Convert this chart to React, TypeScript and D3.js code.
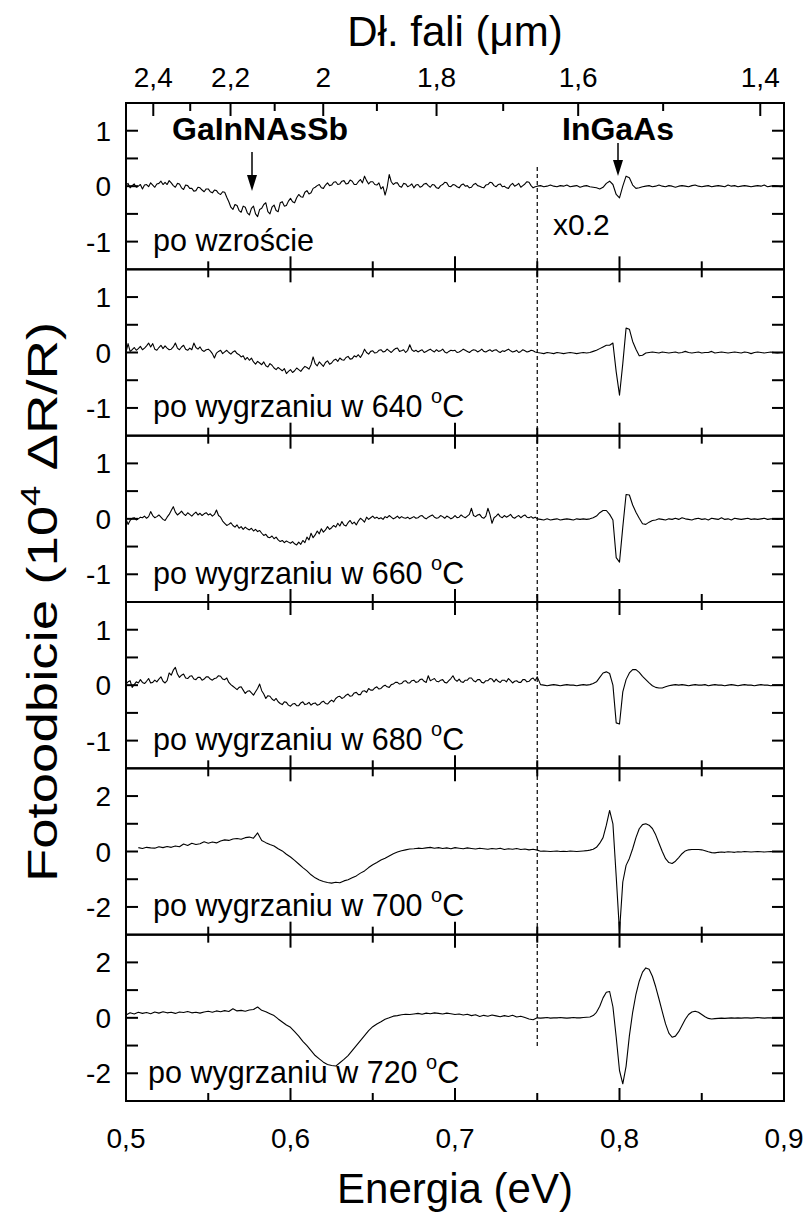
import React from "react";
import * as d3 from "d3";

// ---- data -------------------------------------------------------------
// Photoreflectance spectra (10^4 ΔR/R) vs photon energy (eV).
// Left part: 0.500–0.750 eV, evenly sampled (step follows the array length).
// Right part: 0.750–0.900 eV, every 2 meV.
const LEFT_START = 0.5;
const LEFT_END = 0.75;
const RIGHT_START = 0.75;
const RIGHT_STEP = 0.002;

const annealTemps = [null, 640, 660, 680, 700, 720];

const asGrownLeft = [
  0.02, 0.05, -0.03, 0.01, 0.04, -0.02, 0.0, 0.03, -0.05, 0.02, 0.03, -0.01, 0.06, 0.02, -0.02, 0.04, 0.05, 0.09, 0.03, 0.07,
  0.03, 0.1, 0.06, 0.01, -0.02, 0.05, 0.04, -0.03, -0.06, 0.02, 0.01, -0.04, -0.04, -0.09, -0.08, -0.02, -0.03, -0.07, -0.1, -0.05,
  -0.05, -0.1, -0.12, -0.07, -0.08, -0.13, -0.15, -0.1, -0.11, -0.2, -0.28, -0.38, -0.42, -0.33, -0.35, -0.44, -0.47, -0.36, -0.38, -0.48,
  -0.52, -0.4, -0.36, -0.5, -0.55, -0.42, -0.4, -0.33, -0.3, -0.46, -0.5, -0.38, -0.34, -0.44, -0.46, -0.3, -0.28, -0.36, -0.35, -0.27,
  -0.22, -0.28, -0.3, -0.21, -0.15, -0.19, -0.2, -0.11, -0.08, -0.14, -0.12, -0.04, -0.02, 0.01, 0.03, -0.03, -0.04, 0.02, 0.06, 0.01,
  0.02, 0.07, 0.08, 0.03, 0.04, 0.09, 0.1, 0.04, 0.05, 0.11, 0.09, 0.03, 0.03, 0.08, 0.12, 0.06, 0.18, 0.1, 0.04, 0.08,
  0.08, 0.03, 0.02, 0.06, -0.05, -0.01, -0.16, -0.02, 0.21, 0.08, 0.03, 0.06, 0.06, 0.0, -0.02, 0.05, 0.04, -0.01, 0.01, 0.04,
  -0.03, 0.02, 0.03, -0.02, 0.0, 0.04, 0.05, 0.01, -0.02, 0.03, 0.02, -0.03, -0.04, 0.01, 0.03, 0.07, 0.06, 0.0, -0.01, 0.03,
  0.02, -0.01, -0.03, 0.02, 0.04, 0.0, 0.01, -0.03, -0.02, 0.03, 0.05, 0.01, 0.0, -0.02, -0.03, 0.02, 0.03, 0.07, 0.06, 0.01,
  -0.01, 0.03, 0.04, -0.01, 0.0, -0.03, -0.04, 0.02, 0.05, 0.0, 0.02, 0.05, -0.02, 0.01, 0.04, 0.08, 0.07, 0.01, -0.03, -0.01,
  0.0,
];
const asGrownRight = [
  0.0, 0.01, -0.01, 0.0, 0.02, 0.0, -0.01, 0.01, 0.0, 0.02, -0.01, 0.0, 0.01, -0.02, 0.0, 0.01, -0.01, -0.02,
  -0.03, -0.05, -0.02, 0.05, 0.09, 0.03, -0.15, -0.21, 0.0, 0.18, 0.15, 0.02, -0.04, -0.03,
  -0.01, 0.0, 0.01, -0.01, 0.0, 0.02, 0.0, -0.01, 0.01, 0.0, -0.02, 0.0, 0.01, 0.0, -0.01, 0.01, 0.02, 0.0,
  -0.01, 0.0, 0.01, -0.01, 0.0, 0.01, 0.0, -0.01, 0.02, 0.0, 0.01, -0.01, 0.0, 0.01, 0.0, -0.01, 0.0, 0.01,
  0.0, 0.02, -0.01, 0.0, 0.01, 0.0, -0.01, 0.0,
];

const t640Left = [
  0.0, 0.16, 0.02, 0.05, 0.09, 0.04, 0.07, 0.11, 0.05, 0.08, 0.12, 0.17, 0.1, 0.16, 0.06, 0.04, 0.09, 0.13, 0.07, 0.12,
  0.08, 0.05, 0.06, 0.1, 0.17, 0.08, 0.05, 0.1, 0.13, 0.06, 0.04, 0.08, 0.05, 0.17, 0.09, 0.06, 0.1, 0.04, 0.02, 0.05,
  0.06, 0.03, -0.02, -0.1, -0.01, 0.02, 0.04, -0.02, 0.01, 0.04, 0.0, -0.03, 0.01, 0.03, -0.02, -0.04, -0.08, -0.06, -0.13, -0.09,
  -0.14, -0.1, -0.17, -0.21, -0.16, -0.19, -0.22, -0.17, -0.24, -0.26, -0.2, -0.23, -0.28, -0.31, -0.27, -0.3, -0.33, -0.29, -0.38, -0.34,
  -0.31, -0.36, -0.33, -0.28, -0.31, -0.34, -0.29, -0.25, -0.27, -0.3, -0.22, -0.08, -0.2, -0.24, -0.17, -0.21, -0.25, -0.18, -0.15, -0.21,
  -0.19, -0.14, -0.12, -0.16, -0.1, -0.13, -0.14, -0.09, -0.07, -0.12, -0.11, -0.06, -0.08, -0.04, -0.09, -0.03, 0.06, 0.0, -0.03, 0.02,
  0.03, -0.01, 0.0, 0.04, 0.05, 0.01, 0.02, 0.06, 0.03, 0.0, 0.04, 0.07, 0.08, 0.02, 0.03, 0.05, 0.0, 0.04, 0.14, 0.05,
  0.02, 0.04, 0.01, 0.03, 0.05, 0.0, 0.02, 0.04, 0.06, 0.03, 0.01, 0.05, 0.02, 0.03, 0.06, 0.01, -0.01, 0.02, 0.04, 0.03,
  0.04, 0.0, 0.01, 0.03, 0.06, 0.04, 0.02, 0.0, 0.03, 0.05, 0.04, 0.01, 0.03, 0.06, 0.02, 0.01, 0.03, 0.05, 0.02, 0.04,
  0.05, 0.02, 0.0, 0.03, 0.02, 0.04, 0.06, 0.03, 0.01, 0.02, 0.04, 0.0, 0.02, 0.05, 0.03, 0.01, 0.02, 0.04, 0.03, 0.01,
  0.0,
];
const t640Right = [
  0.0, -0.01, -0.02, 0.0, -0.01, -0.02, 0.0, -0.01, -0.02, -0.01, 0.0, -0.01, -0.02, -0.01, 0.0, -0.01, 0.0, 0.02,
  0.04, 0.07, 0.1, 0.13, 0.13, 0.17, -0.35, -0.77, -0.2, 0.44, 0.42, 0.2, 0.06, -0.06, -0.05, -0.01, 0.0, 0.01,
  0.0, -0.01, 0.01, 0.0, -0.01, 0.0, 0.01, -0.01, 0.0, 0.02, 0.0, -0.01, 0.0, 0.01, -0.01, 0.0, 0.0, 0.02, -0.01, 0.0,
  0.01, 0.0, -0.01, 0.0, 0.01, 0.0, -0.01, 0.01, 0.0, -0.02, 0.0, 0.01, 0.0, -0.01, 0.0, 0.01, 0.0, -0.01, 0.0, 0.0,
];

const t660Left = [
  0.0, -0.1, -0.03, 0.01, 0.02, -0.02, 0.0, 0.03, 0.02, 0.05, 0.01, 0.04, 0.13, 0.06, 0.02, 0.04, 0.07, 0.03, -0.01, -0.03,
  0.03, 0.08, 0.15, 0.22, 0.12, 0.07, 0.1, 0.14, 0.09, 0.06, 0.11, 0.08, 0.05, 0.09, 0.12, 0.07, 0.1, 0.06, 0.09, 0.11,
  0.07, 0.09, 0.05, 0.08, 0.16, 0.06, 0.03, -0.04, -0.08, -0.12, -0.1, -0.07, -0.12, -0.15, -0.11, -0.17, -0.14, -0.19, -0.15, -0.18,
  -0.2, -0.17, -0.22, -0.19, -0.23, -0.21, -0.26, -0.3, -0.28, -0.33, -0.34, -0.31, -0.36, -0.33, -0.38, -0.41, -0.39, -0.43, -0.4, -0.42,
  -0.44, -0.41, -0.45, -0.47, -0.42, -0.46, -0.39, -0.43, -0.33, -0.38, -0.26, -0.34, -0.29, -0.22, -0.27, -0.18, -0.24, -0.2, -0.14, -0.19,
  -0.16, -0.12, -0.15, -0.08, -0.13, -0.05, -0.11, -0.13, -0.07, -0.03, -0.09, -0.06, -0.11, -0.04, 0.01, -0.02, -0.06, 0.03, -0.01, 0.02,
  0.05, 0.01, 0.03, 0.0, 0.02, -0.01, 0.04, 0.02, 0.06, 0.03, 0.0, 0.02, 0.05, 0.01, 0.04, 0.02, 0.01, 0.03, 0.0, 0.02,
  0.04, 0.01, 0.02, 0.05, 0.06, 0.02, 0.0, 0.03, 0.05, 0.07, 0.03, 0.01, 0.02, 0.06, 0.04, 0.01, 0.05, 0.03, 0.0, 0.02,
  0.06, 0.02, 0.03, 0.07, 0.04, 0.02, 0.05, 0.08, 0.19, 0.06, 0.04, 0.07, 0.08, 0.03, 0.01, 0.05, 0.19, 0.08, -0.08, 0.02,
  0.05, 0.09, 0.04, 0.02, 0.06, 0.03, 0.05, 0.08, 0.03, 0.01, 0.04, 0.06, 0.02, 0.05, 0.07, 0.03, 0.02, 0.04, 0.01, 0.03,
  0.0,
];
const t660Right = [
  0.01, -0.01, -0.02, 0.0, -0.02, -0.01, 0.0, -0.02, -0.01, 0.0, -0.01, -0.02, 0.0, -0.01, 0.0, -0.01, 0.0, 0.02,
  0.05, 0.11, 0.15, 0.15, 0.08, -0.02, -0.7, -0.78, -0.15, 0.44, 0.43, 0.25, 0.12, 0.01, -0.09, -0.1, -0.06, -0.03,
  -0.02, 0.0, -0.01, -0.02, 0.0, -0.01, 0.01, -0.01, 0.02, 0.0, -0.01, -0.02, 0.0, 0.01, -0.01, 0.0, -0.02, 0.01, 0.0, -0.01,
  0.02, -0.01, 0.0, -0.02, 0.01, 0.0, -0.01, 0.0, 0.01, -0.01, 0.0, -0.01, 0.0, 0.01, -0.01, 0.0, 0.0, -0.01, 0.0, 0.0,
];

const t680Left = [
  0.02, 0.06, 0.08, -0.04, 0.01, 0.06, 0.04, 0.1, 0.05, 0.03, 0.07, 0.12, 0.04, 0.05, 0.09, 0.06, 0.11, 0.15, 0.07, 0.04,
  0.08, 0.22, 0.18, 0.27, 0.32, 0.2, 0.14, 0.18, 0.2, 0.13, 0.12, 0.16, 0.17, 0.11, 0.1, 0.14, 0.14, 0.09, 0.11, 0.15,
  0.15, 0.11, 0.09, 0.12, 0.13, 0.17, 0.16, 0.11, 0.1, 0.13, 0.05, 0.01, -0.02, -0.05, -0.08, -0.04, -0.03, -0.09, -0.15, -0.11,
  -0.1, -0.14, -0.18, -0.12, -0.06, 0.02, -0.1, -0.16, -0.24, -0.19, -0.2, -0.25, -0.28, -0.24, -0.3, -0.33, -0.35, -0.3, -0.31, -0.36,
  -0.38, -0.34, -0.33, -0.37, -0.37, -0.32, -0.3, -0.35, -0.34, -0.31, -0.36, -0.33, -0.32, -0.36, -0.35, -0.31, -0.29, -0.33, -0.34, -0.3,
  -0.27, -0.3, -0.24, -0.21, -0.2, -0.24, -0.22, -0.18, -0.16, -0.2, -0.19, -0.14, -0.13, -0.17, -0.17, -0.11, -0.1, -0.13, -0.06, -0.09,
  -0.09, -0.05, -0.03, -0.07, -0.06, -0.02, 0.0, -0.03, -0.04, 0.01, 0.02, 0.05, 0.05, 0.02, 0.03, 0.07, 0.08, 0.04, 0.04, 0.08,
  0.09, 0.05, 0.06, 0.1, 0.11, 0.07, 0.05, 0.17, 0.08, 0.1, 0.12, 0.07, 0.06, 0.09, 0.1, 0.05, 0.04, 0.08, 0.12, 0.17,
  0.1, 0.07, 0.11, 0.06, 0.05, 0.09, 0.09, 0.13, 0.13, 0.08, 0.06, 0.1, 0.1, 0.05, 0.04, 0.08, 0.08, 0.12, 0.11, 0.06,
  0.11, 0.07, 0.05, 0.09, 0.09, 0.06, 0.12, 0.08, 0.04, 0.07, 0.08, 0.05, 0.05, 0.1, 0.1, 0.06, 0.07, 0.11, 0.13, 0.08,
  0.15,
];
const t680Right = [
  0.0, 0.01, 0.0, -0.01, 0.0, 0.01, 0.0, -0.01, 0.0, 0.01, 0.0, 0.0, -0.01, 0.0, 0.01, 0.0, 0.01, 0.03,
  0.06, 0.14, 0.22, 0.24, 0.21, 0.0, -0.68, -0.7, -0.12, 0.1, 0.22, 0.28, 0.28, 0.23, 0.16, 0.1, 0.04, -0.01,
  -0.04, -0.05, -0.05, -0.03, -0.01,
  0.0, 0.01, 0.0, 0.01, 0.0, -0.01, 0.0, 0.01, 0.0, 0.0, 0.01, -0.01, 0.0, 0.01, 0.0, 0.0, -0.01, 0.0, 0.01,
  0.0, -0.01, 0.0, 0.01, 0.0, 0.0, -0.01, 0.0, 0.01, 0.0, 0.0, -0.01, 0.0, 0.0, 0.0, 0.0,
];

const t700Left = [
  null, null, null, 0.14, 0.11, 0.15, 0.13, 0.12, 0.17, 0.14,
  0.18, 0.15, 0.2, 0.17, 0.27, 0.22, 0.3, 0.25, 0.28, 0.35,
  0.3, 0.34, 0.31, 0.38, 0.42, 0.4, 0.45, 0.47, 0.44, 0.5,
  0.52, 0.48, 0.67, 0.4, 0.32, 0.25, 0.2, 0.1, 0.02, -0.1,
  -0.2, -0.32, -0.45, -0.58, -0.7, -0.84, -0.95, -1.03, -1.08, -1.12,
  -1.14, -1.11, -1.13, -1.06, -1.02, -0.95, -0.88, -0.78, -0.7, -0.58,
  -0.48, -0.4, -0.31, -0.24, -0.16, -0.08, -0.02, 0.03, 0.06, 0.09,
  0.1, 0.12, 0.11, 0.13, 0.15, 0.12, 0.14, 0.11, 0.13, 0.1,
  0.14, 0.12, 0.1, 0.13, 0.11, 0.09, 0.12, 0.1, 0.08, 0.11,
  0.09, 0.12, 0.07, 0.1, 0.08, 0.11, 0.07, 0.09, 0.06, 0.08, 0.05,
];
const t700Right = [
  0.0, 0.01, 0.02, 0.01, 0.0, 0.01, 0.02, 0.0, 0.01, 0.0, 0.02, 0.01, 0.0, 0.01, 0.02, 0.03, 0.05, 0.08,
  0.15, 0.3, 0.5, 0.95, 1.48, 1.0, -0.9, -2.9, -1.1, -0.5, -0.25, 0.1, 0.5, 0.82, 0.97, 1.0, 0.95, 0.83,
  0.6, 0.3, 0.0, -0.26, -0.4, -0.43, -0.35, -0.22, -0.08, 0.02, 0.06, 0.07, 0.07, 0.07, 0.06, 0.03, -0.01, -0.04,
  -0.05, -0.03, -0.02, -0.03, -0.01, -0.02, -0.03, -0.01, -0.02, 0.0, -0.01, -0.02, -0.01, 0.0, -0.01, -0.02,
  -0.01, 0.0, -0.01, 0.0, -0.01, 0.0,
];

const t720Left = [
  0.1, 0.18, 0.14, 0.2, 0.16, 0.19, 0.15, 0.21, 0.17, 0.22,
  0.18, 0.2, 0.16, 0.21, 0.19, 0.23, 0.18, 0.2, 0.17, 0.21,
  0.24, 0.2, 0.25, 0.22, 0.26, 0.23, 0.33, 0.25, 0.27, 0.24,
  0.28, 0.3, 0.39, 0.27, 0.22, 0.15, 0.08, -0.04, -0.15, -0.26,
  -0.34, -0.5, -0.66, -0.85, -1.0, -1.18, -1.36, -1.48, -1.6, -1.68,
  -1.72, -1.74, -1.62, -1.5, -1.36, -1.18, -1.0, -0.82, -0.64, -0.46,
  -0.32, -0.22, -0.14, -0.05, 0.0, 0.06, 0.08, 0.11, 0.13, 0.12,
  0.14, 0.16, 0.13, 0.17, 0.15, 0.18, 0.16, 0.14, 0.17, 0.15,
  0.12, 0.14, 0.1, 0.13, 0.08, 0.11, 0.05, 0.09, 0.06, 0.1,
  0.07, 0.04, 0.08, 0.05, 0.09, 0.03, 0.06, 0.01, -0.04, -0.07, 0.0,
];
const t720Right = [
  0.0, -0.01, 0.0, 0.01, -0.01, 0.0, 0.0, 0.01, 0.0, -0.01, 0.0, 0.01, 0.0, 0.0, 0.01, 0.02,
  0.03, 0.08, 0.2, 0.42, 0.72, 0.92, 0.95, 0.4, -0.7, -1.9, -2.38, -1.75, -0.65, 0.2, 0.85, 1.32, 1.65, 1.8, 1.75,
  1.5, 1.12, 0.68, 0.22, -0.22, -0.55, -0.7, -0.66, -0.5, -0.28, -0.05, 0.12, 0.21, 0.24, 0.2, 0.12, 0.04, -0.02,
  -0.04, -0.03, -0.02, -0.01, -0.02, -0.01,
  0.0, -0.01, 0.0, -0.01, 0.0, 0.0, -0.01, 0.0, 0.01, 0.0, -0.01, 0.0, 0.0, -0.01, 0.0, 0.0, 0.0,
];

const leftSeries = [asGrownLeft, t640Left, t660Left, t680Left, t700Left, t720Left];
const rightSeries = [asGrownRight, t640Right, t660Right, t680Right, t700Right, t720Right];

const energyMajor = [0.5, 0.6, 0.7, 0.8, 0.9];
const energyMinor = [0.55, 0.65, 0.75, 0.85];
const wavelengthMajor = [2.4, 2.2, 2.0, 1.8, 1.6, 1.4];
const wavelengthMinor = [2.3, 2.1, 1.9, 1.7, 1.5];
const smallDomain: [number, number] = [-1.5, 1.5];
const largeDomain: [number, number] = [-3, 3];
const smallMajor = [-1, 0, 1];
const smallMinor = [-0.5, 0.5];
const largeMajor = [-2, 0, 2];
const largeMinor = [-1, 1];

// ---- layout -----------------------------------------------------------
const W = 811;
const H = 1214;
const PLOT_LEFT = 126;
const PLOT_RIGHT = 784;
const PLOT_TOP = 103;
const PLOT_BOTTOM = 1101;
const N_PANELS = 6;
const PANEL_H = (PLOT_BOTTOM - PLOT_TOP) / N_PANELS;
const FONT = "'Liberation Sans', Arial, Helvetica, sans-serif";
const HC = 1.2398; // eV·µm

const comma = (v: number) => String(v).replace(".", ",");

export default function App() {
  const x = d3.scaleLinear().domain([0.5, 0.9]).range([PLOT_LEFT, PLOT_RIGHT]);

  const panels = leftSeries.map((left, k) => {
    const top = PLOT_TOP + k * PANEL_H;
    const large = k >= 4;
    const y = d3
      .scaleLinear()
      .domain(large ? largeDomain : smallDomain)
      .range([top + PANEL_H, top]);
    const leftStep = (LEFT_END - LEFT_START) / (left.length - 1);
    const pts: [number, number | null][] = [];
    left.forEach((v, i) => pts.push([LEFT_START + i * leftStep, v]));
    rightSeries[k].forEach((v, i) => {
      if (i > 0) pts.push([RIGHT_START + i * RIGHT_STEP, v]);
    });
    const line = d3
      .line<[number, number | null]>()
      .defined((d) => d[1] !== null)
      .x((d) => x(d[0]))
      .y((d) => y(d[1] as number));
    return {
      k,
      top,
      y,
      path: line(pts) || "",
      major: large ? largeMajor : smallMajor,
      minor: large ? largeMinor : smallMinor,
      temp: annealTemps[k],
    };
  });

  const X_MAJ = 13;
  const X_MIN = 8;
  const Y_TICK = 12;
  const dashX = x(0.75);
  const midY = (PLOT_TOP + PLOT_BOTTOM) / 2;

  return (
    <svg
      width={W}
      height={H}
      viewBox={`0 0 ${W} ${H}`}
      style={{ position: "absolute", left: 0, top: 0, background: "#fff" }}
      fontFamily={FONT}
    >
      <rect x={0} y={0} width={W} height={H} fill="#fff" />

      {/* top axis title and wavelength ticks */}
      <text x={(PLOT_LEFT + PLOT_RIGHT) / 2} y={46} fontSize={42} textAnchor="middle">
        Dł. fali (μm)
      </text>
      {wavelengthMajor.map((w) => (
        <g key={`wM${w}`}>
          <line x1={x(HC / w)} x2={x(HC / w)} y1={PLOT_TOP} y2={PLOT_TOP + X_MAJ} stroke="#000" strokeWidth={2} />
          <text x={x(HC / w)} y={87} fontSize={28} textAnchor="middle">
            {comma(w)}
          </text>
        </g>
      ))}
      {wavelengthMinor.map((w) => (
        <line key={`wm${w}`} x1={x(HC / w)} x2={x(HC / w)} y1={PLOT_TOP} y2={PLOT_TOP + X_MIN} stroke="#000" strokeWidth={2} />
      ))}

      {panels.map((p) => (
        <g key={p.k}>
          <path d={p.path} fill="none" stroke="#000" strokeWidth={1.1} strokeLinejoin="round" />
          {/* energy ticks on bottom (and top, except first panel) */}
          {energyMajor.concat(energyMinor).map((e) => {
            const len = energyMajor.includes(e) ? X_MAJ : X_MIN;
            return (
              <g key={`e${e}`}>
                <line x1={x(e)} x2={x(e)} y1={p.top + PANEL_H} y2={p.top + PANEL_H - len} stroke="#000" strokeWidth={2} />
                {p.k > 0 && (
                  <line x1={x(e)} x2={x(e)} y1={p.top} y2={p.top + len} stroke="#000" strokeWidth={2} />
                )}
              </g>
            );
          })}
          {/* value ticks, both sides */}
          {p.major.concat(p.minor).map((v) => (
            <g key={`v${v}`}>
              <line x1={PLOT_LEFT} x2={PLOT_LEFT + Y_TICK} y1={p.y(v)} y2={p.y(v)} stroke="#000" strokeWidth={2} />
              <line x1={PLOT_RIGHT} x2={PLOT_RIGHT - Y_TICK} y1={p.y(v)} y2={p.y(v)} stroke="#000" strokeWidth={2} />
            </g>
          ))}
          {p.major.map((v) => (
            <text key={`l${v}`} x={111} y={p.y(v) + 10} fontSize={28} textAnchor="end">
              {String(v)}
            </text>
          ))}
          <rect x={PLOT_LEFT} y={p.top} width={PLOT_RIGHT - PLOT_LEFT} height={PANEL_H} fill="none" stroke="#000" strokeWidth={2} />
          {/* sample description */}
          <text x={p.k === 5 ? 148 : 153} y={p.top + 148} fontSize={30.5}>
            {p.temp === null ? (
              "po wzroście"
            ) : (
              <>
                {`po wygrzaniu w ${p.temp} `}
                <tspan fontSize={20} dy={-14}>o</tspan>
                <tspan dy={14}>C</tspan>
              </>
            )}
          </text>
        </g>
      ))}

      {/* separation between the two spectral regions */}
      <line x1={dashX} x2={dashX} y1={167} y2={1048} stroke="#000" strokeWidth={1.2} strokeDasharray="4,3" />
      <text x={553} y={235} fontSize={30}>x0.2</text>

      {/* material labels with arrows */}
      <text x={260} y={140} fontSize={32} fontWeight="bold" textAnchor="middle">GaInNAsSb</text>
      <line x1={252} x2={252} y1={152} y2={178} stroke="#000" strokeWidth={1.5} />
      <path d="M247,175 L257,175 L252,191 Z" fill="#000" />
      <text x={618} y={140} fontSize={32} fontWeight="bold" textAnchor="middle">InGaAs</text>
      <line x1={618} x2={618} y1={143} y2={163} stroke="#000" strokeWidth={1.5} />
      <path d="M613,160 L623,160 L618,176 Z" fill="#000" />

      {/* bottom axis labels */}
      {energyMajor.map((e) => (
        <text key={`b${e}`} x={x(e)} y={1148} fontSize={28} textAnchor="middle">
          {comma(e)}
        </text>
      ))}
      <text x={(PLOT_LEFT + PLOT_RIGHT) / 2} y={1203} fontSize={42} textAnchor="middle">
        Energia (eV)
      </text>

      {/* vertical axis title, stretched along its length */}
      <g transform={`translate(57,${midY}) rotate(-90) scale(1.3,1)`}>
        <text x={0} y={0} fontSize={42} textAnchor="middle">
          Fotoodbicie (10
          <tspan fontSize={28} dy={-17}>4</tspan>
          <tspan dy={17}> ΔR/R)</tspan>
        </text>
      </g>
    </svg>
  );
}
